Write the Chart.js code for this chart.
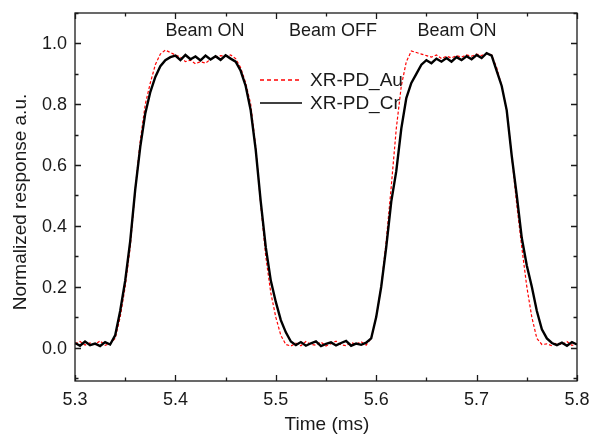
<!DOCTYPE html>
<html>
<head>
<meta charset="utf-8">
<script src="https://cdn.jsdelivr.net/npm/chart.js@4.4.1/dist/chart.umd.min.js"></script>
<style>
  body { margin: 0; background: #fff; }
  #wrap { width: 591px; height: 437px; }
</style>
</head>
<body>
<div id="wrap"><canvas id="pulseChart" width="591" height="437"></canvas></div>
<script>
// sampling grid of the trace, ms
const timeStart = 5.3;
const timeStep = 0.005;

// XR-PD_Cr (black), one value per time step
const crValues = [
  0.015, 0.006, 0.02, 0.008, 0.013, 0.005, 0.018, 0.01,
  0.04, 0.12, 0.22, 0.35, 0.52, 0.66, 0.77, 0.84, 0.89, 0.925, 0.945, 0.955,
  0.96, 0.945, 0.962, 0.948, 0.957, 0.944, 0.96, 0.947, 0.958, 0.946, 0.961, 0.95,
  0.94, 0.91, 0.86, 0.78, 0.65, 0.48, 0.33, 0.22, 0.15, 0.09, 0.05, 0.02,
  0.008, 0.018, 0.006, 0.014, 0.02, 0.005, 0.012, 0.017, 0.007, 0.015, 0.022, 0.006, 0.013, 0.009, 0.016,
  0.03, 0.1, 0.2, 0.33, 0.48, 0.58, 0.72, 0.82, 0.87, 0.9, 0.93,
  0.945, 0.935, 0.95, 0.94, 0.952, 0.94, 0.955, 0.945, 0.958, 0.948, 0.962, 0.952, 0.968, 0.96,
  0.91, 0.86, 0.78, 0.63, 0.5, 0.36, 0.27, 0.2, 0.12, 0.06, 0.03, 0.015,
  0.008, 0.016, 0.006, 0.018, 0.01
];

// XR-PD_Au (red dashed)
const auValues = [
  0.012, 0.02, 0.008, 0.015, 0.01, 0.022, 0.007, 0.013,
  0.03, 0.1, 0.2, 0.33, 0.52, 0.68, 0.8, 0.87, 0.93, 0.965, 0.978, 0.97,
  0.962, 0.955, 0.94, 0.945, 0.933, 0.94, 0.935, 0.948, 0.955, 0.96, 0.958, 0.962,
  0.95, 0.92, 0.87, 0.8, 0.66, 0.47, 0.3, 0.18, 0.1, 0.04, 0.01, 0.005,
  0.014, 0.006, 0.02, 0.01, 0.008, 0.018, 0.005, 0.013, 0.021, 0.009, 0.006, 0.016, 0.011, 0.019, 0.008,
  0.03, 0.1, 0.2, 0.35, 0.53, 0.72, 0.86, 0.94, 0.975, 0.97, 0.965,
  0.96, 0.955, 0.962, 0.95, 0.958, 0.952, 0.96, 0.955, 0.962, 0.958, 0.965, 0.96, 0.968, 0.962,
  0.92, 0.86, 0.78, 0.63, 0.47, 0.33, 0.2, 0.1, 0.03, 0.01, 0.012, 0.006,
  0.015, 0.009, 0.02, 0.007, 0.012
];

const seriesNames = ['XR-PD_Au', 'XR-PD_Cr'];
const xTicks = [5.3, 5.4, 5.5, 5.6, 5.7, 5.8];
const xMinorTicks = [5.35, 5.45, 5.55, 5.65, 5.75];
const yTicks = [0.0, 0.2, 0.4, 0.6, 0.8, 1.0];
const yMinorTicks = [-0.1, 0.1, 0.3, 0.5, 0.7, 0.9, 1.1];
const beamLabels = ['Beam ON', 'Beam OFF', 'Beam ON'];

const FONT = '"Liberation Sans", Arial, sans-serif';
const INK = '#1a1a1a';

function toPoints(values) {
  return values.map((v, i) => ({ x: +(timeStart + i * timeStep).toFixed(3), y: v }));
}

// frame, inward ticks on all sides, tick labels, titles, legend
const decorPlugin = {
  id: 'decor',
  afterDraw(chart) {
    const { ctx, chartArea: a, scales } = chart;
    const xs = scales.x, ys = scales.y;
    ctx.save();
    ctx.strokeStyle = INK;
    ctx.lineWidth = 1.3;
    ctx.strokeRect(a.left, a.top, a.right - a.left, a.bottom - a.top);

    ctx.beginPath();
    const xTick = (v, len) => {
      const px = Math.round(xs.getPixelForValue(v)) + 0.5;
      ctx.moveTo(px, a.bottom); ctx.lineTo(px, a.bottom - len);
      ctx.moveTo(px, a.top); ctx.lineTo(px, a.top + len);
    };
    const yTick = (v, len) => {
      const py = Math.round(ys.getPixelForValue(v)) + 0.5;
      ctx.moveTo(a.left, py); ctx.lineTo(a.left + len, py);
      ctx.moveTo(a.right, py); ctx.lineTo(a.right - len, py);
    };
    xTicks.forEach(v => xTick(v, 6));
    xMinorTicks.forEach(v => xTick(v, 3.5));
    yTicks.forEach(v => yTick(v, 6));
    yMinorTicks.forEach(v => yTick(v, 3.5));
    ctx.stroke();

    // tick labels
    ctx.fillStyle = INK;
    ctx.font = '18px ' + FONT;
    ctx.textBaseline = 'middle';
    ctx.textAlign = 'center';
    xTicks.forEach(v => ctx.fillText(v.toFixed(1), xs.getPixelForValue(v), a.bottom + 19));
    ctx.textAlign = 'right';
    yTicks.forEach(v => ctx.fillText(v.toFixed(1), a.left - 8, ys.getPixelForValue(v) + 1));

    // beam labels
    ctx.font = '18px ' + FONT;
    ctx.textAlign = 'center';
    beamLabels.forEach((txt, i) => {
      const px = [205, 333, 457][i];
      ctx.fillText(txt, px, 31);
    });

    // legend
    const legendX = 260, legendLen = 42;
    const rows = [
      { name: seriesNames[0], color: '#ff0000', dash: [4, 3], y: 80 },
      { name: seriesNames[1], color: '#000000', dash: [], y: 103 }
    ];
    ctx.font = '19px ' + FONT;
    ctx.textAlign = 'left';
    rows.forEach(r => {
      ctx.beginPath();
      ctx.setLineDash(r.dash);
      ctx.strokeStyle = r.color;
      ctx.lineWidth = 1.3;
      ctx.moveTo(legendX, r.y);
      ctx.lineTo(legendX + legendLen, r.y);
      ctx.stroke();
      ctx.setLineDash([]);
      ctx.fillStyle = INK;
      ctx.fillText(r.name, 310, r.y + 1);
    });

    // axis titles
    ctx.font = '19px ' + FONT;
    ctx.textAlign = 'center';
    ctx.fillText('Time (ms)', 327, 425);
    ctx.translate(21, 202);
    ctx.rotate(-Math.PI / 2);
    ctx.fillText('Normalized response a.u.', 0, 0);
    ctx.restore();
  }
};

const chart = new Chart(document.getElementById('pulseChart'), {
  type: 'line',
  data: {
    datasets: [
      {
        label: seriesNames[0],
        data: toPoints(auValues),
        borderColor: '#ff0000',
        borderWidth: 1.2,
        borderDash: [3, 2],
        pointRadius: 0,
        order: 2
      },
      {
        label: seriesNames[1],
        data: toPoints(crValues),
        borderColor: '#000000',
        borderWidth: 2.4,
        pointRadius: 0,
        order: 1
      }
    ]
  },
  options: {
    responsive: false,
    animation: false,
    layout: { padding: { left: 0, right: 14, top: 13, bottom: 0 } },
    plugins: { legend: { display: false }, tooltip: { enabled: false } },
    scales: {
      x: {
        type: 'linear',
        min: 5.3,
        max: 5.8,
        afterBuildTicks: s => { s.ticks = xTicks.map(v => ({ value: v })); },
        afterFit: s => { s.height = 56; },
        grid: { display: false },
        border: { display: false },
        ticks: { display: false }
      },
      y: {
        min: -0.11,
        max: 1.1,
        afterBuildTicks: s => { s.ticks = yTicks.map(v => ({ value: v })); },
        afterFit: s => { s.width = 75; },
        grid: { display: false },
        border: { display: false },
        ticks: { display: false }
      }
    }
  },
  plugins: [decorPlugin]
});
</script>
</body>
</html>
